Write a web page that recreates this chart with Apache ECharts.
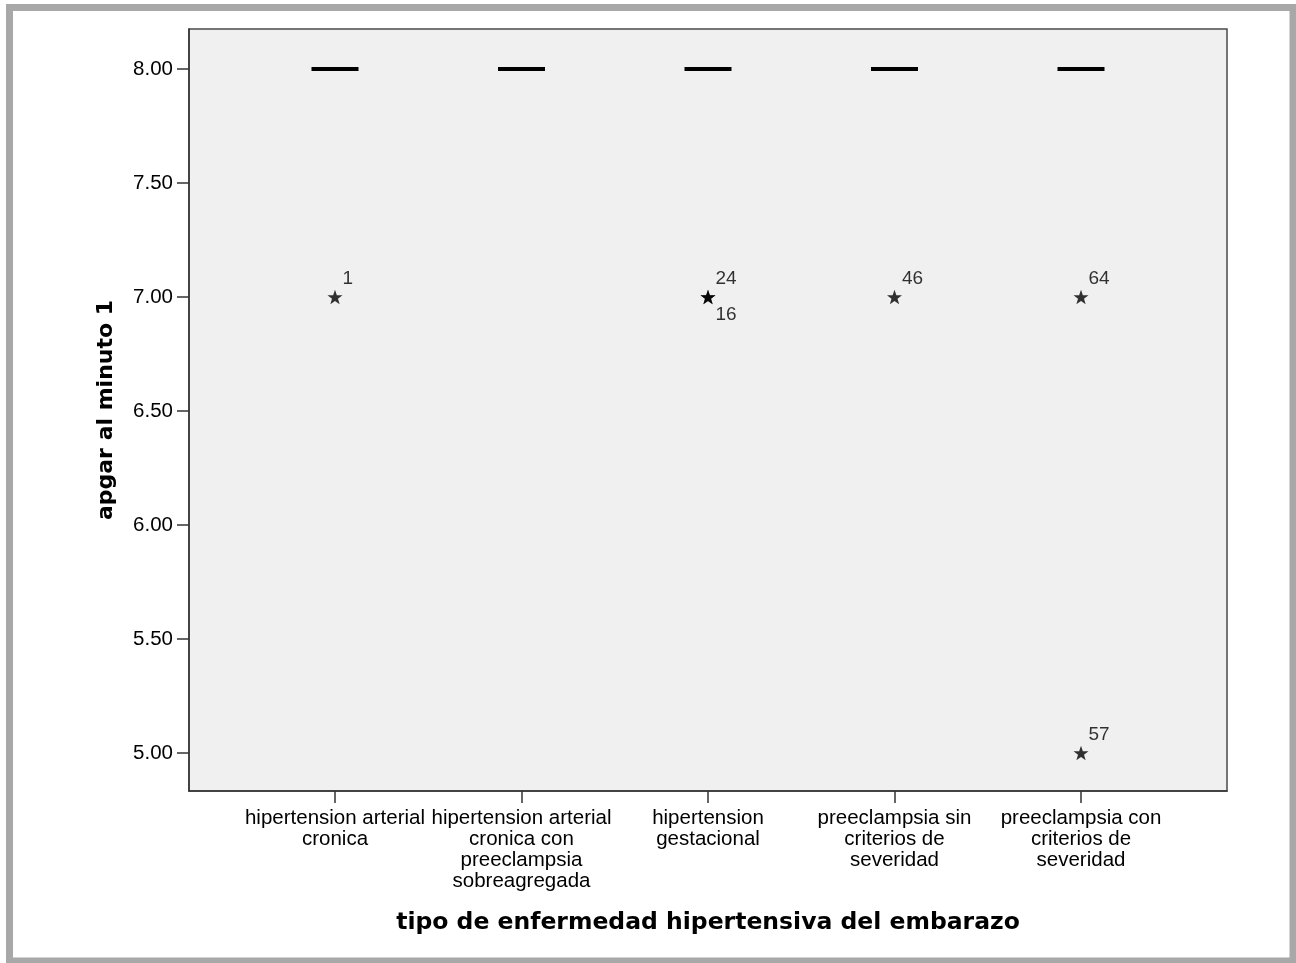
<!DOCTYPE html>
<html>
<head>
<meta charset="utf-8">
<script src="https://cdn.jsdelivr.net/npm/echarts@6/dist/echarts.min.js"></script>
<style>
  html, body { margin: 0; padding: 0; background: #fff; }
  #chart { width: 1296px; height: 963px; }
</style>
</head>
<body>
<div id="chart"></div>
<script>
// categories on the x axis (one box each)
var categories = [
  'hipertension arterial\ncronica',
  'hipertension arterial\ncronica con\npreeclampsia\nsobreagregada',
  'hipertension\ngestacional',
  'preeclampsia sin\ncriterios de\nseveridad',
  'preeclampsia con\ncriterios de\nseveridad'
];
// every box collapses onto its median
var medians = [8, 8, 8, 8, 8];

// extreme outliers: category index (1-based), value, case number
var outlierCat = [1, 3, 3, 4, 5, 5];
var outlierVal = [7, 7, 7, 7, 7, 5];
var outlierId  = ['1', '24', '16', '46', '64', '57'];

var yTicks = [5.0, 5.5, 6.0, 6.5, 7.0, 7.5, 8.0];
var yMin = 4.8333, yMax = 8.1754;

var starPath = 'path://M100 0 L123.5 67.6 L195.1 69.1 L138 112.4 L158.8 180.9 L100 140 L41.2 180.9 L62 112.4 L4.9 69.1 L76.5 67.6 Z';

var textFont = 'Liberation Sans, Arial, sans-serif';
var titleFont = 'DejaVu Sans, Verdana, sans-serif';

// build outlier points; a repeated spot gets its label below the star
var outlierData = [];
var seen = {};
for (var i = 0; i < outlierCat.length; i++) {
  var key = outlierCat[i] + '_' + outlierVal[i];
  var below = !!seen[key];
  seen[key] = true;
  outlierData.push({
    value: [outlierCat[i], outlierVal[i]],
    label: { formatter: outlierId[i], offset: [0, below ? 18 : -18] }
  });
}

var medianData = medians.map(function(v, i) { return [i + 1, v]; });

var chart = echarts.init(document.getElementById('chart'));
var option = {
  animation: false,
  backgroundColor: '#ffffff',
  graphic: [{
    type: 'rect',
    shape: { x: 9.5, y: 7.5, width: 1283.5, height: 953.5 },
    style: { fill: 'none', stroke: '#a8a8a8', lineWidth: 7 },
    z: 100
  }],
  grid: {
    left: 189, right: 69, top: 29, bottom: 172,
    show: true,
    backgroundColor: '#f0f0f0',
    borderColor: '#4a4a4a',
    borderWidth: 1.5
  },
  xAxis: {
    type: 'value',
    min: 0.2172,
    max: 5.7828,
    name: 'tipo de enfermedad hipertensiva del embarazo',
    nameLocation: 'middle',
    nameGap: 120,
    nameTextStyle: { fontFamily: titleFont, fontWeight: 'bold', fontSize: 23.5, color: '#000' },
    axisLine: { show: true, lineStyle: { color: '#333', width: 1.5 } },
    axisTick: { show: true, length: 12, customValues: [1, 2, 3, 4, 5], lineStyle: { color: '#333', width: 1.5 } },
    axisLabel: {
      customValues: [1, 2, 3, 4, 5],
      margin: 17,
      fontFamily: textFont,
      fontSize: 20.5,
      lineHeight: 21,
      color: '#000',
      align: 'center',
      formatter: function(v) { return categories[Math.round(v) - 1] || ''; }
    },
    splitLine: { show: false }
  },
  yAxis: {
    type: 'value',
    min: yMin,
    max: yMax,
    name: 'apgar al minuto 1',
    nameLocation: 'middle',
    nameGap: 72,
    nameRotate: 90,
    nameTextStyle: { fontFamily: titleFont, fontWeight: 'bold', fontSize: 22, color: '#000' },
    axisLine: { show: true, lineStyle: { color: '#333', width: 1.5 } },
    axisTick: { show: true, length: 12, customValues: yTicks, lineStyle: { color: '#333', width: 1.5 } },
    axisLabel: {
      customValues: yTicks,
      margin: 16,
      fontFamily: textFont,
      fontSize: 20.5,
      color: '#000',
      formatter: function(v) { return v.toFixed(2); }
    },
    splitLine: { show: false }
  },
  series: [
    {
      type: 'custom',
      name: 'median',
      data: medianData,
      renderItem: function(params, api) {
        var p = api.coord([api.value(0), api.value(1)]);
        return {
          type: 'line',
          shape: { x1: p[0] - 23.5, y1: p[1], x2: p[0] + 23.5, y2: p[1] },
          style: { stroke: '#000', lineWidth: 4 }
        };
      }
    },
    {
      type: 'scatter',
      name: 'outliers',
      data: outlierData,
      symbol: starPath,
      symbolSize: [15, 14.3],
      itemStyle: { color: '#000' },
      label: {
        show: true,
        position: 'right',
        distance: 0,
        fontFamily: textFont,
        fontSize: 19,
        color: '#000'
      }
    }
  ]
};
chart.setOption(option);
</script>
</body>
</html>
